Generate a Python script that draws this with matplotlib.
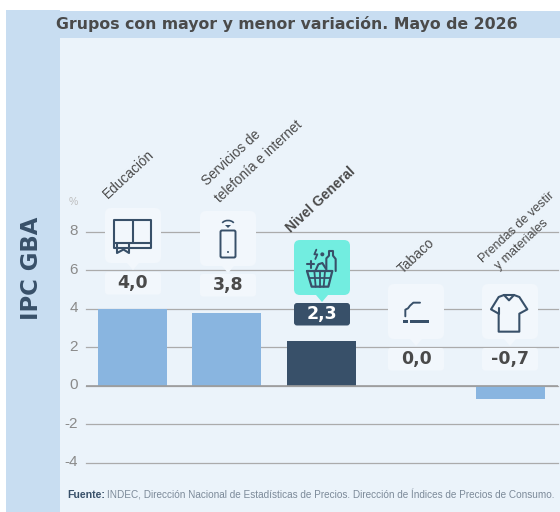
import numpy as np
import matplotlib
matplotlib.use("Agg")
import matplotlib.pyplot as plt
from matplotlib.patches import Rectangle, FancyBboxPatch, Polygon, Arc, Circle
from matplotlib.transforms import ScaledTranslation

# === DATA ===
categories = ["Educación", "Servicios de\ntelefonía e internet", "Nivel General", "Tabaco", "Prendas de vestir\ny materiales"]
values = [4.0, 3.8, 2.3, 0.0, -0.7]
value_labels = ["4,0", "3,8", "2,3", "0,0", "-0,7"]
y_ticks = [8, 6, 4, 2, 0, -2, -4]
y_tick_labels = ["8", "6", "4", "2", "0", "-2", "-4"]
title = "Grupos con mayor y menor variación. Mayo de 2026"
side_label = "IPC GBA"

# === COLORS ===
band = "#C8DDF1"
panel = "#EBF3FA"
box = "#F2F7FC"
light_bar = "#89B5E0"
dark = "#385069"
teal = "#72EDE0"
grey_text = "#4A4A4A"
W, H = 560, 512

SANS = ["Liberation Sans", "DejaVu Sans"]

fig = plt.figure(figsize=(5.6, 5.12), dpi=100, facecolor="white")

# background + decoration layer in pixels
bg = fig.add_axes([0, 0, 1, 1], zorder=0)
bg.set_xlim(0, W)
bg.set_ylim(H, 0)
bg.axis("off")
bg.add_patch(Rectangle((6, 10), 54, 502, fc=band, ec="none"))
bg.add_patch(Rectangle((60, 11), 500, 27, fc=band, ec="none"))
bg.add_patch(Rectangle((60, 38), 500, 474, fc=panel, ec="none"))

# === MAIN AXES ===
ax = fig.add_axes([86 / W, 1 - 463 / H, 472 / W, (463 - 231.5) / H], zorder=1)
ax.patch.set_alpha(0)
ax.set_xlim(-0.492, 4.503)
ax.set_ylim(-4, 8)
for s in ax.spines.values():
    s.set_visible(False)
ax.set_xticks([])
ax.set_yticks(y_ticks)
ax.set_yticklabels(y_tick_labels, fontsize=11, color="#8A8A8A", fontfamily="Liberation Sans")
ax.tick_params(axis="y", length=0, pad=6)
ax.grid(axis="y", color="#ABABAB", lw=0.9)
for gl in ax.get_ygridlines():
    gl.set_clip_on(False)
ax.set_axisbelow(True)
shift = ScaledTranslation(0, 2 / 100, fig.dpi_scale_trans)
for lab in ax.get_yticklabels():
    lab.set_transform(lab.get_transform() + shift)
colors = [light_bar, light_bar, dark, light_bar, light_bar]
ax.bar(range(len(values)), values, width=0.73, color=colors, zorder=2)
ax.axhline(0, color="#9C9C9C", lw=1.2, zorder=3)

# overlay for callouts, icons and text
top = fig.add_axes([0, 0, 1, 1], zorder=2)
top.set_xlim(0, W)
top.set_ylim(H, 0)
top.axis("off")

top.text(56, 24.5, title, fontsize=11.35, fontweight="bold", color=grey_text,
         family=["DejaVu Sans"], ha="left", va="center")
top.text(32, 268.5, side_label, fontsize=16.4, fontweight="bold", color=dark,
         family=["DejaVu Sans"], rotation=90, ha="center", va="center")
top.text(73.5, 202, "%", fontsize=7.5, color="#BDBDBD", family=SANS, ha="center", va="center")

top.text(67, 494.5, "Fuente:", fontsize=7.6, fontweight="bold", color=dark,
         family=SANS, ha="left", va="center")
top.text(107, 494.5, "INDEC, Dirección Nacional de Estadísticas de Precios. Dirección de Índices de Precios de Consumo.",
         fontsize=7.2, color="#7C8A99", family=SANS, ha="left", va="center")

# callouts: icon box x-left, y-top; value box y-top
box_x = [105, 200, 294, 388, 482]
box_top = [208, 211, 240, 284, 284]
val_top = [272, 274, 303, 348, 348]
for i, (x0, y0, vy) in enumerate(zip(box_x, box_top, val_top)):
    fc = teal if i == 2 else box
    top.add_patch(FancyBboxPatch((x0 + 4, y0 + 4), 48, 47, boxstyle="round,pad=4,rounding_size=6", fc=fc, ec="none"))
    top.add_patch(Polygon([(x0 + 22, y0 + 55), (x0 + 34, y0 + 55), (x0 + 28, y0 + 62)], fc=fc, ec="none"))
    vc = dark if i == 2 else box
    top.add_patch(FancyBboxPatch((x0 + 3, vy + 3), 50, 16.5, boxstyle="round,pad=3,rounding_size=3", fc=vc, ec="none"))
    top.text(x0 + 28, vy + 11, value_labels[i], fontsize=12.5, fontweight="bold",
             color="white" if i == 2 else grey_text, family=["DejaVu Sans"], ha="center", va="center")

# rotated labels, one position per line
label_xy = [[(129, 174)], [(231, 158), (259, 161)], [(321, 200)], [(416, 256)], [(517, 227), (522, 245)]]
label_size = [9.8, 9.8, 10, 9.8, 9.0]
for i, lab in enumerate(categories):
    for line, (lx, ly) in zip(lab.split("\n"), label_xy[i]):
        top.text(lx, ly, line, fontsize=label_size[i], rotation=43, rotation_mode="anchor", ha="center", va="center",
                 color=grey_text, family=SANS, fontweight="bold" if i == 2 else "normal")


def stroke(xs, ys, lw=1.5):
    top.plot(xs, ys, color=dark, lw=lw, solid_capstyle="round", solid_joinstyle="round")


# book
stroke([133, 114, 114, 151, 151, 133, 133], [219.5, 219.5, 243, 243, 219.5, 219.5, 243])
stroke([114, 114, 151, 151], [243, 247.5, 247.5, 243])
stroke([117, 117, 123.5, 129, 129], [244, 253, 249.5, 253, 244])

# phone
top.add_patch(FancyBboxPatch((221, 231), 14, 26, boxstyle="round,pad=0.5,rounding_size=1.5", fc="none", ec=dark, lw=1.4))
top.add_patch(Circle((228, 252), 1.0, fc=dark, ec="none"))
top.add_patch(Arc((228, 225), 13, 9, theta1=200, theta2=340, ec=dark, lw=1.2))
top.add_patch(Polygon([(225, 225), (231, 225), (228, 228)], fc=dark, ec="none"))

# basket
bx = 285
by = 235
stroke(bx + np.array([66, 142, 130, 80, 66]) / 3, by + np.array([108, 108, 155, 155, 108]) / 3, 1.6)
stroke(bx + np.array([74, 134]) / 3, by + np.array([130, 130]) / 3, 1.3)
for gx in [(88, 92), (104, 104), (120, 116)]:
    stroke(bx + np.array([gx[0], gx[1]]) / 3, by + np.array([108, 155]) / 3, 1.3)
stroke(bx + np.array([124, 124, 132, 132, 144, 144, 152, 152]) / 3, by + np.array([108, 70, 62, 48, 48, 62, 72, 108]) / 3, 1.5)
stroke(bx + np.array([92, 100, 112, 122]) / 3, by + np.array([106, 88, 84, 100]) / 3, 1.5)
stroke(bx + np.array([66, 88]) / 3, by + np.array([88, 88]) / 3, 1.5)
stroke(bx + np.array([77, 77]) / 3, by + np.array([77, 99]) / 3, 1.5)
stroke(bx + np.array([94, 88, 97, 91]) / 3, by + np.array([44, 58, 58, 72]) / 3, 1.3)
top.add_patch(Circle((bx + 112 / 3, by + 58 / 3), 2, fc=dark, ec="none"))

# cigarette
tx = 380
ty = 275
top.add_patch(Rectangle((tx + 69 / 3, ty + 135 / 3), 14 / 3, 8 / 3, fc=dark, ec="none"))
top.add_patch(Rectangle((tx + 90 / 3, ty + 135 / 3), 57 / 3, 8 / 3, fc=dark, ec="none"))
stroke(tx + np.array([76, 76, 84, 90, 100, 120]) / 3, ty + np.array([124, 104, 100, 92, 83, 83]) / 3, 1.4)

# shirt
sx = 380
sy = 275
stroke(sx + np.array([372, 356, 333, 356, 356, 418, 418, 442, 418, 402, 372]) / 3,
       sy + np.array([60, 66, 103, 116, 170, 170, 116, 103, 66, 60, 60]) / 3, 1.5)
stroke(sx + np.array([372, 387, 402]) / 3, sy + np.array([60, 76, 60]) / 3, 1.5)
stroke(sx + np.array([356, 356]) / 3, sy + np.array([100, 116]) / 3, 1.5)

fig.savefig("out.png", dpi=100, facecolor="white")
